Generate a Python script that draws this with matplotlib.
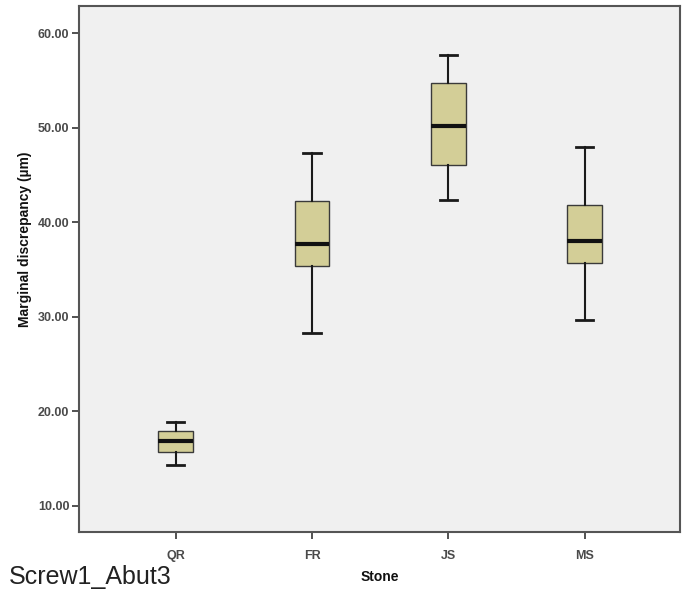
import matplotlib
matplotlib.use("Agg")
import matplotlib.pyplot as plt

# values
stones = ["QR", "FR", "JS", "MS"]
whisker_low = [14.3, 28.3, 42.4, 29.7]
q1 = [15.7, 35.4, 46.1, 35.7]
median = [16.8, 37.7, 50.15, 38.0]
q3 = [17.9, 42.2, 54.7, 41.85]
whisker_high = [18.8, 47.3, 57.7, 48.0]
y_ticks = [10, 20, 30, 40, 50, 60]

plt.rcParams['font.family'] = ['Liberation Sans', 'DejaVu Sans']

fig = plt.figure(figsize=(6.84, 6.04), dpi=100)
ax = fig.add_axes([79 / 684, 72 / 604, 601 / 684, 526 / 604])
ax.set_facecolor('#f0f0f0')

stats = []
for i, name in enumerate(stones):
    stats.append({
        'label': name, 'whislo': whisker_low[i], 'q1': q1[i], 'med': median[i],
        'q3': q3[i], 'whishi': whisker_high[i], 'fliers': [],
    })

ax.bxp(stats, positions=range(len(stones)), widths=0.256, patch_artist=True,
       boxprops=dict(facecolor='#d3ce97', edgecolor='#3a3a3a', linewidth=1.0),
       medianprops=dict(color='#111111', linewidth=3.0),
       whiskerprops=dict(color='#1a1a1a', linewidth=1.5),
       capprops=dict(color='#1a1a1a', linewidth=2.0),
       showfliers=False)

ax.set_xlim(-0.71, 3.70)
ax.set_ylim(7.2, 62.9)
ax.set_yticks(y_ticks)
ax.set_yticklabels([f"{v:.2f}" for v in y_ticks])
ax.set_xticks(range(len(stones)))
ax.set_xticklabels(stones)

ax.tick_params(axis='both', direction='out', length=5, width=1.2, color='#333333',
               labelsize=9, labelcolor='#4a4a4a')
ax.tick_params(axis='x', pad=8)
ax.tick_params(axis='y', pad=2)
for lbl in ax.get_xticklabels() + ax.get_yticklabels():
    lbl.set_fontweight('bold')

for sp in ax.spines.values():
    sp.set_color('#555555')
    sp.set_linewidth(1.5)

ax.set_ylabel('Marginal discrepancy (µm)', fontsize=10, fontweight='bold', color='#111111')
ax.yaxis.set_label_coords(-0.078, 0.557)
fig.text(379.5 / 684, 1 - 577 / 604, 'Stone', fontsize=10, fontweight='bold',
         color='#111111', ha='center', va='center')
fig.text(9 / 684, 1 - 577 / 604, 'Screw1_Abut3', fontsize=18, color='#222222',
         ha='left', va='center')

fig.savefig('out.png', dpi=100)
